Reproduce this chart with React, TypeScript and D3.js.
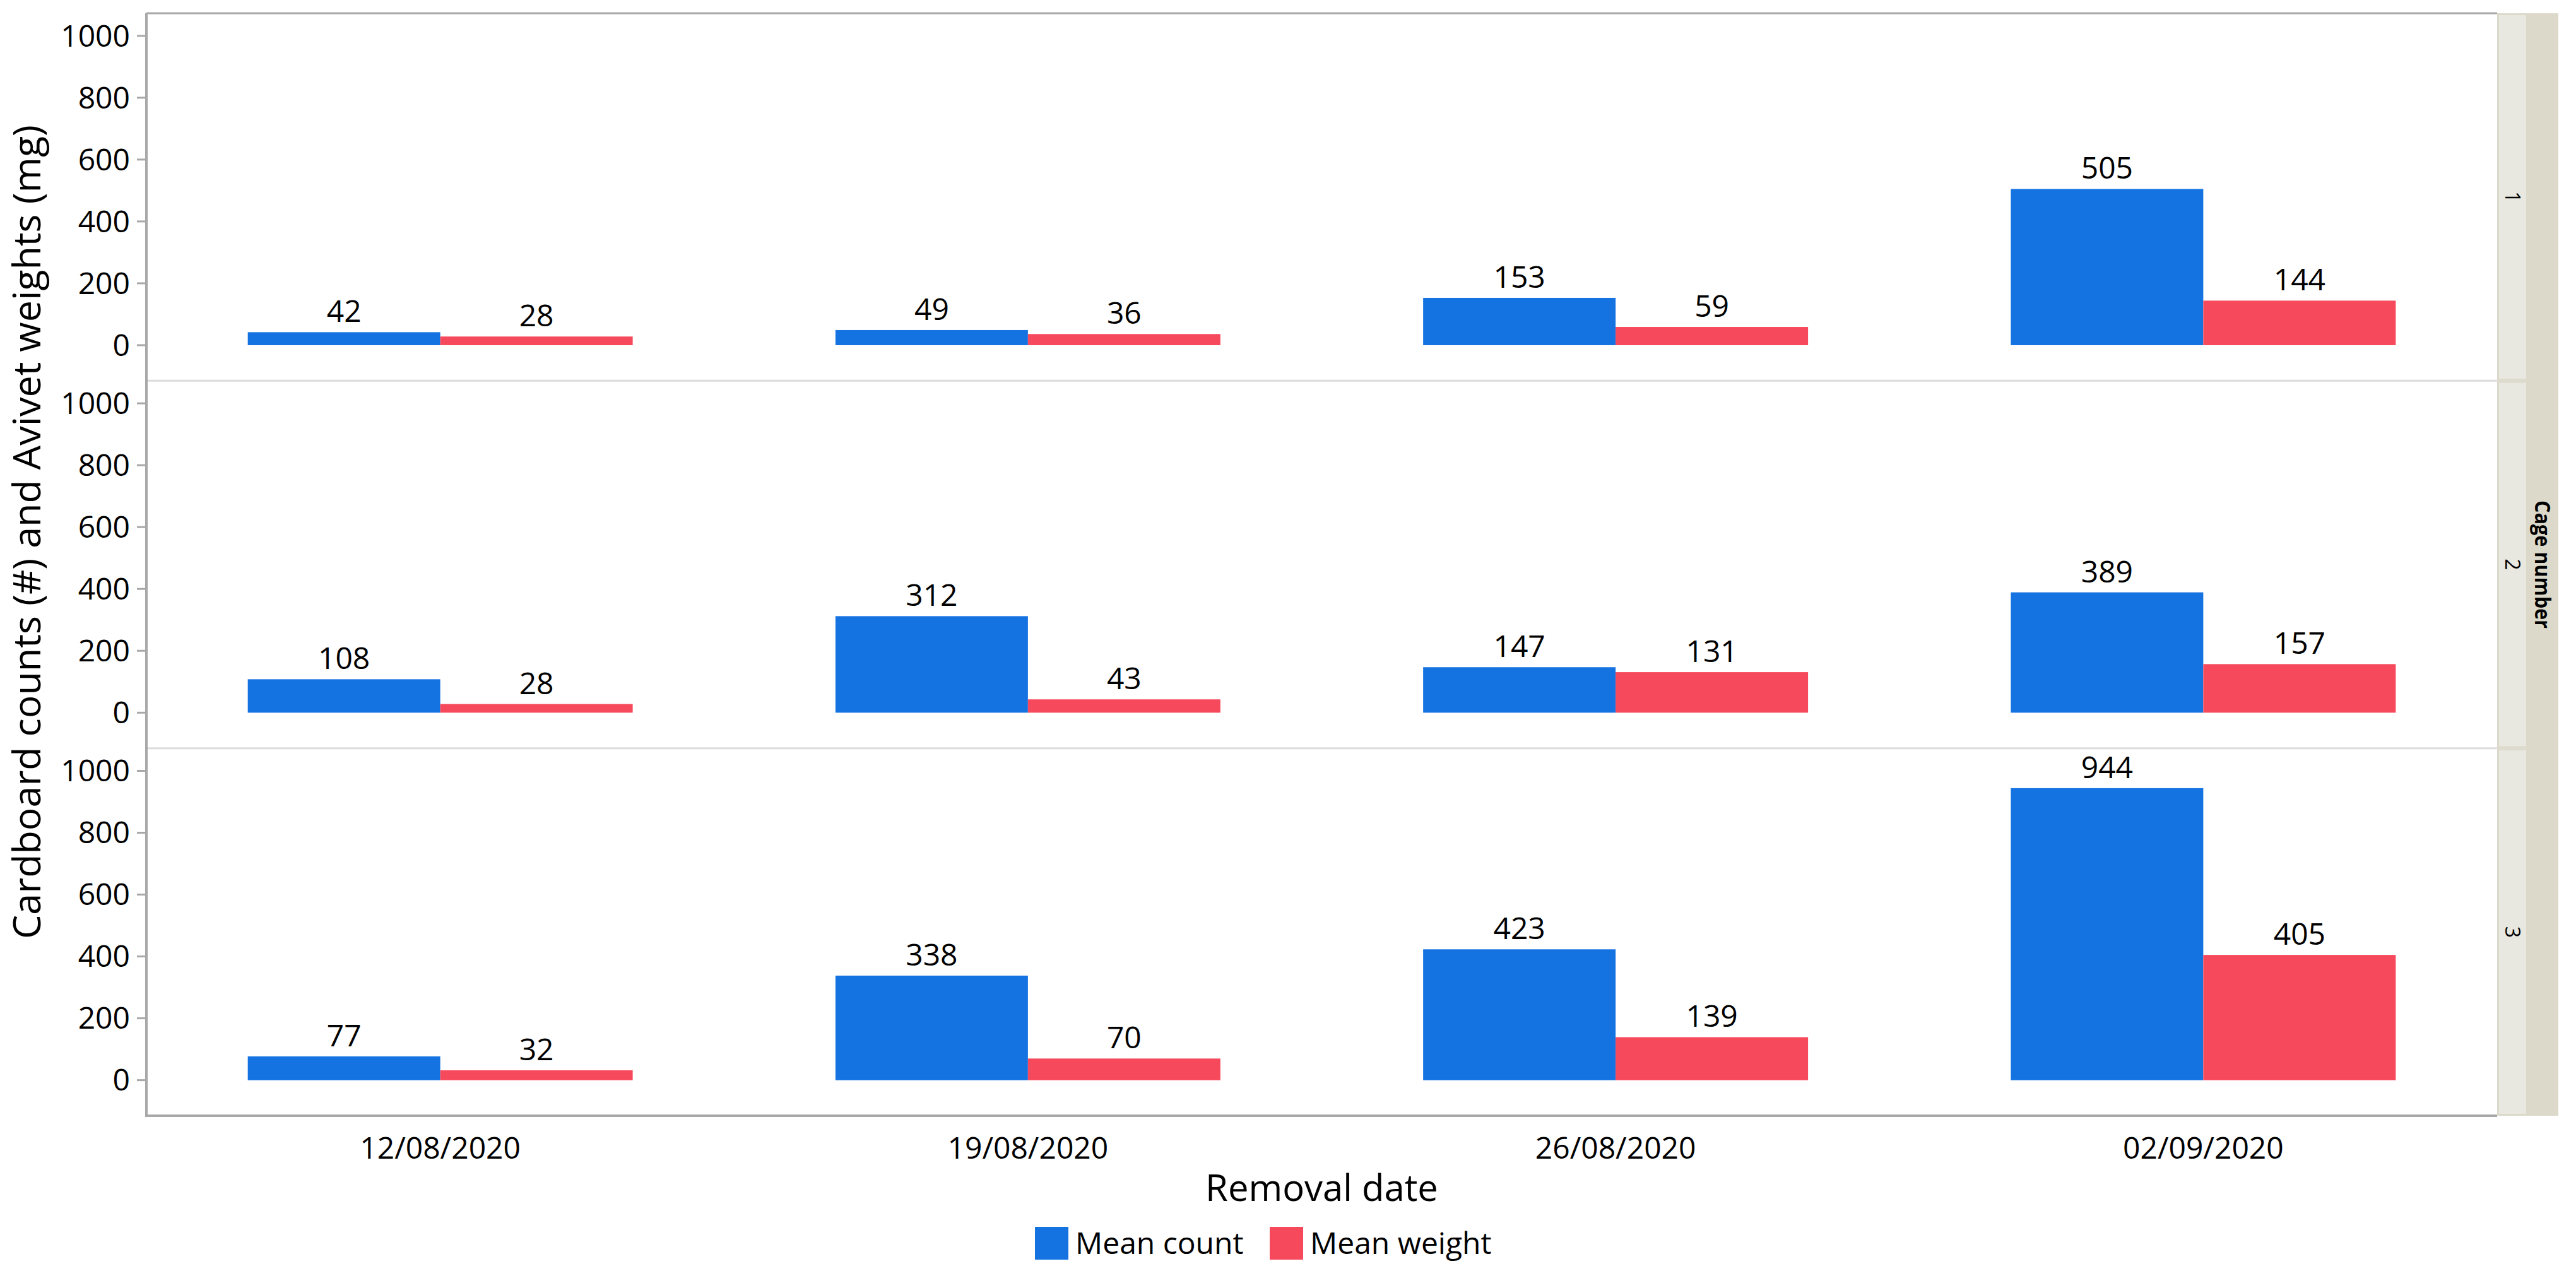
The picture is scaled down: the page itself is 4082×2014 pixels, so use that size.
import React from "react";
import * as d3 from "d3";

const dates = ["12/08/2020", "19/08/2020", "26/08/2020", "02/09/2020"];
const cages = ["1", "2", "3"];
const seriesNames = ["Mean count", "Mean weight"];
const meanCount = [
  [42, 49, 153, 505],
  [108, 312, 147, 389],
  [77, 338, 423, 944],
];
const meanWeight = [
  [28, 36, 59, 144],
  [28, 43, 131, 157],
  [32, 70, 139, 405],
];
const yTicks = [0, 200, 400, 600, 800, 1000];
const colors = ["#1473E1", "#F64A5C"];

const W = 4082;
const H = 2014;
const left = 232;
const right = 3957;
const top = 21;
const bottom = 1768;
const stripW = 47;
const font = "'Open Sans', 'Noto Sans', sans-serif";

export default function App() {
  const panelH = (bottom - top) / 3;
  const x = d3.scaleBand<string>().domain(dates).range([left, right]).paddingInner(0.345).paddingOuter(0.1725);
  const xs = d3.scaleBand<string>().domain(seriesNames).range([0, x.bandwidth()]);
  const panels = cages.map((c, i) => {
    const y0 = top + i * panelH;
    const y = d3.scaleLinear().domain([-115, 1073]).range([y0 + panelH, y0]);
    return { c, i, y0, y };
  });
  return (
    <svg width={W} height={H} style={{ position: "absolute", left: 0, top: 0, background: "#fff" }} fontFamily={font}>
      <rect x={0} y={0} width={W} height={H} fill="#fff" />
      {panels.map(({ c, i, y0, y }) => (
        <g key={c}>
          {i > 0 && <line x1={left} x2={right} y1={y0} y2={y0} stroke="#DCDCDC" strokeWidth={3} />}
          {yTicks.map((t) => (
            <g key={t}>
              <line x1={left - 15} x2={left} y1={y(t)} y2={y(t)} stroke="#A8A8A8" strokeWidth={3} />
              <text x={left - 26} y={y(t)} dy="0.35em" textAnchor="end" fontSize={48} fill="#000">
                {t}
              </text>
            </g>
          ))}
          {dates.map((d, j) => {
            const vals = [meanCount[i][j], meanWeight[i][j]];
            return vals.map((v, k) => {
              const bx = (x(d) as number) + (xs(seriesNames[k]) as number);
              return (
                <g key={d + k}>
                  <rect x={bx} y={y(v)} width={xs.bandwidth()} height={y(0) - y(v)} fill={colors[k]} />
                  <text x={bx + xs.bandwidth() / 2} y={y(v) - 16} textAnchor="middle" fontSize={48} fill="#000">
                    {v}
                  </text>
                </g>
              );
            });
          })}
          <rect x={right} y={y0} width={stripW} height={panelH} fill="#DCD9CB" />
          <rect x={right + 3} y={y0 + 3} width={stripW - 4} height={panelH - 6} fill="#E8E8E0" />
          <text
            transform={`translate(${right + stripW / 2 + 1},${y0 + panelH / 2}) rotate(90)`}
            textAnchor="middle"
            dy="0.35em"
            fontSize={32}
            fill="#000"
          >
            {c}
          </text>
        </g>
      ))}
      <rect x={right + stripW} y={top} width={50} height={bottom - top} fill="#DCD9CB" />
      <text
        transform={`translate(${right + stripW + 25},${(top + bottom) / 2}) rotate(90)`}
        textAnchor="middle"
        dy="0.35em"
        fontSize={34}
        fontWeight="bold"
        textLength={203}
        lengthAdjust="spacingAndGlyphs"
        fill="#000"
      >
        Cage number
      </text>
      <line x1={left} x2={right} y1={top} y2={top} stroke="#A8A8A8" strokeWidth={3} />
      <line x1={left} x2={left} y1={top} y2={bottom} stroke="#A8A8A8" strokeWidth={4} />
      <line x1={left - 2} x2={right} y1={bottom} y2={bottom} stroke="#A8A8A8" strokeWidth={4} />
      {dates.map((d) => (
        <text key={d} x={(x(d) as number) + x.bandwidth() / 2} y={1836} textAnchor="middle" fontSize={48} fill="#000">
          {d}
        </text>
      ))}
      <text x={(left + right) / 2} y={1903} textAnchor="middle" fontSize={58} fill="#000">
        Removal date
      </text>
      <text transform={`translate(64,843) rotate(-90)`} textAnchor="middle" fontSize={61} fill="#000">
        Cardboard counts (#) and Avivet weights (mg)
      </text>
      {(() => {
        const items = [
          { x: 1640, label: seriesNames[0], color: colors[0] },
          { x: 2012, label: seriesNames[1], color: colors[1] },
        ];
        return items.map((it) => (
          <g key={it.label}>
            <rect x={it.x} y={1944} width={53} height={52} fill={it.color} />
            <text x={it.x + 64} y={1987} fontSize={48} fill="#000">
              {it.label}
            </text>
          </g>
        ));
      })()}
    </svg>
  );
}
